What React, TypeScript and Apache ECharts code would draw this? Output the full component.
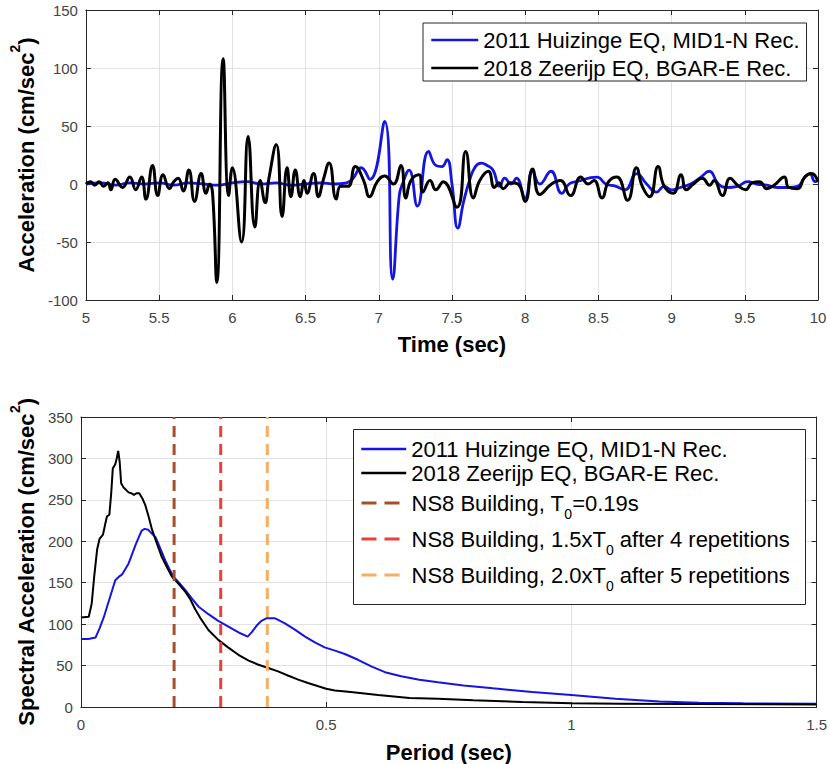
import { useEffect, useRef } from 'react';
import * as echarts from 'echarts';

const FONT = '"Liberation Sans", Arial, Helvetica, sans-serif';

const huizingeName = '2011 Huizinge EQ, MID1-N Rec.';
const zeerijpName = '2018 Zeerijp EQ, BGAR-E Rec.';
const markerNames = [
  'NS8 Building, T0=0.19s',
  'NS8 Building, 1.5xT0 after 4 repetitions',
  'NS8 Building, 2.0xT0 after 5 repetitions',
];
const markerPeriods = [0.19, 0.285, 0.38];
const markerColors = ['#A4502A', '#E8413A', '#F5AE62'];

const timeTicks = { min: 5, max: 10, interval: 0.5 };
const accTicks = { min: -100, max: 150, interval: 50 };
const periodTicks = { min: 0, max: 1.5, interval: 0.5 };
const saTicks = { min: 0, max: 350, interval: 50 };

// Acceleration time histories (time s, acc cm/s^2)
const huizingeAcc: [number, number][] = [
  [5.0, 0], [5.1, 1], [5.2, -1], [5.3, 1], [5.4, 0], [5.5, 1], [5.6, -1], [5.7, 1], [5.8, 0],
  [5.9, -1], [6.0, 1], [6.1, 2], [6.2, 0], [6.3, 1], [6.4, -1], [6.5, 0], [6.6, 1], [6.7, 0],
  [6.78, 1], [6.82, 4], [6.88, 14], [6.94, 4], [7.04, 54], [7.095, -82], [7.14, -10], [7.162, 0],
  [7.207, 12], [7.264, -19], [7.34, 28], [7.39, 16], [7.43, 15], [7.466, 21], [7.5, 0], [7.54, -38],
  [7.58, -15], [7.62, 3], [7.66, 15], [7.7, 18], [7.74, 16], [7.78, 12], [7.826, -2], [7.86, 5],
  [7.905, 0], [7.94, 5], [8.0, -12], [8.05, 11], [8.1, 0], [8.176, 11], [8.25, -8], [8.3, 0],
  [8.35, 2], [8.49, 6], [8.55, 0], [8.62, -2], [8.68, -5], [8.762, 9], [8.83, 0], [8.896, -7],
  [8.95, -2], [9.0, -5], [9.06, -3], [9.13, 0], [9.2, 6], [9.257, 11], [9.32, 0], [9.38, -3],
  [9.45, -2], [9.52, 2], [9.58, 0], [9.65, -1], [9.72, -3], [9.8, -3], [9.86, -2], [9.91, 6],
  [9.944, 9], [9.98, 2], [10.0, 3],
];

const zeerijpAcc: [number, number][] = [
  [5.0, 0], [5.03, 2], [5.06, -1], [5.09, 2], [5.12, -2], [5.15, 1], [5.17, -5], [5.2, 4],
  [5.25, -3], [5.3, 6], [5.34, -5], [5.38, 6], [5.41, -13], [5.455, 16], [5.49, -10], [5.527, 8],
  [5.57, -4], [5.6, 2], [5.63, 5], [5.665, -6], [5.703, 12], [5.742, -15], [5.787, 9], [5.82, -8],
  [5.845, 0], [5.865, -8], [5.894, -85], [5.937, 108], [5.975, -10], [6.0, 14], [6.063, -50],
  [6.108, 41], [6.154, -37], [6.19, 3], [6.224, -16], [6.25, 5], [6.3, 34], [6.34, -28],
  [6.374, 14], [6.4, -11], [6.43, 12], [6.464, -11], [6.49, 3], [6.51, -8], [6.555, 9],
  [6.588, -11], [6.62, 3], [6.661, 18], [6.71, -13], [6.74, -2], [6.79, -2], [6.84, 15],
  [6.897, 3], [6.937, -11], [6.99, 2], [7.04, 7], [7.1, 0], [7.151, 16], [7.185, -12], [7.22, 3],
  [7.275, 8], [7.3, -7], [7.35, 3], [7.39, -5], [7.44, 2], [7.534, -20], [7.594, 28], [7.646, -12],
  [7.69, 3], [7.748, 11], [7.79, -3], [7.82, 1], [7.85, -4], [7.9, 1], [7.95, 0], [8.0, -15],
  [8.05, 13], [8.1, -9], [8.18, 0], [8.24, 3], [8.31, -10], [8.38, 6], [8.43, 0], [8.47, 3],
  [8.525, -12], [8.57, 2], [8.626, 6], [8.7, -14], [8.76, 14], [8.8, -2], [8.851, -11],
  [8.908, 15], [8.95, -2], [9.01, -8], [9.065, 8], [9.1, -5], [9.15, 0], [9.21, 5], [9.26, -1],
  [9.29, 3], [9.347, -10], [9.4, 5], [9.45, -1], [9.505, -5], [9.55, 1], [9.6, 2], [9.65, -4],
  [9.7, -1], [9.77, 6], [9.8, -3], [9.86, -4], [9.91, 6], [9.955, 9], [10.0, 2],
];

// Response spectra (period s, Sa cm/s^2)
const huizingeSa: [number, number][] = [
  [0, 82], [0.015, 82], [0.03, 84], [0.038, 95], [0.047, 109], [0.058, 130], [0.07, 153],
  [0.077, 157], [0.084, 160], [0.09, 166], [0.097, 173], [0.104, 184], [0.111, 195], [0.118, 205],
  [0.124, 213], [0.13, 215], [0.137, 214], [0.145, 209], [0.152, 205], [0.158, 197], [0.165, 187],
  [0.172, 177], [0.18, 167], [0.189, 157], [0.2, 150], [0.213, 141], [0.226, 131], [0.24, 121],
  [0.26, 112], [0.28, 104], [0.307, 95], [0.325, 89], [0.34, 85], [0.348, 90], [0.358, 98],
  [0.368, 104], [0.378, 107], [0.396, 107], [0.416, 101], [0.437, 93], [0.457, 85], [0.477, 78],
  [0.497, 72], [0.518, 68], [0.538, 64], [0.565, 57], [0.592, 49], [0.62, 42], [0.653, 37],
  [0.69, 33], [0.728, 30], [0.78, 26], [0.84, 22.5], [0.92, 18], [1.0, 14.5], [1.09, 10],
  [1.18, 6.5], [1.26, 5], [1.35, 4.5], [1.5, 4],
];

const zeerijpSa: [number, number][] = [
  [0, 108], [0.016, 109], [0.022, 125], [0.027, 157], [0.033, 190], [0.038, 203], [0.045, 208],
  [0.05, 222], [0.053, 230], [0.058, 232], [0.062, 260], [0.065, 288], [0.07, 293], [0.073, 300],
  [0.076, 309], [0.079, 296], [0.082, 270], [0.087, 265], [0.092, 262], [0.097, 259],
  [0.103, 258], [0.108, 256], [0.114, 258], [0.119, 258], [0.125, 252], [0.131, 244],
  [0.138, 230], [0.145, 214], [0.155, 197], [0.165, 181], [0.176, 168], [0.186, 157], [0.2, 148],
  [0.213, 139], [0.223, 130], [0.233, 118], [0.245, 106], [0.26, 93], [0.28, 81], [0.3, 72],
  [0.321, 63], [0.342, 56], [0.362, 51], [0.382, 47], [0.402, 43], [0.422, 38], [0.443, 33],
  [0.463, 29], [0.484, 25], [0.5, 22], [0.518, 20], [0.55, 18], [0.606, 14.5], [0.67, 11],
  [0.728, 10], [0.8, 8], [0.9, 6], [1.0, 4.5], [1.1, 4], [1.25, 3.5], [1.5, 3],
];

const BLUE = '#1515E0';
const BLACK = '#000000';
const AXIS = '#262626';
const GRIDLINE = '#e2e2e2';

function makeX(gridIndex: number, ticks: any, name: string, bottom: boolean) {
  return {
    gridIndex,
    type: 'value',
    position: bottom ? 'bottom' : 'top',
    ...ticks,
    name: bottom ? name : '',
    nameLocation: 'middle',
    nameGap: 33,
    nameTextStyle: { fontFamily: FONT, fontSize: 22, fontWeight: 'bold', color: '#000' },
    axisLine: { show: true, onZero: false, lineStyle: { color: AXIS, width: 1 } },
    axisTick: { show: true, inside: true, length: 5, lineStyle: { color: AXIS } },
    axisLabel: { show: bottom, margin: 10, fontFamily: FONT, fontSize: 15, color: '#444' },
    splitLine: { show: bottom, lineStyle: { color: GRIDLINE, width: 1 } },
  };
}

function makeY(gridIndex: number, ticks: any, name: string, gap: number, left: boolean) {
  return {
    gridIndex,
    type: 'value',
    position: left ? 'left' : 'right',
    ...ticks,
    name: left ? name : '',
    nameLocation: 'middle',
    nameGap: gap,
    nameTextStyle: {
      fontFamily: FONT, fontSize: 22, fontWeight: 'bold', color: '#000',
      rich: { sup: { fontFamily: FONT, fontSize: 14, fontWeight: 'bold', color: '#000', padding: [0, 0, 22, 0] } },
    },
    axisLine: { show: true, onZero: false, lineStyle: { color: AXIS, width: 1 } },
    axisTick: { show: true, inside: true, length: 5, lineStyle: { color: AXIS } },
    axisLabel: { show: left, margin: 8, fontFamily: FONT, fontSize: 15, color: '#444' },
    splitLine: { show: left, lineStyle: { color: GRIDLINE, width: 1 } },
  };
}

function legendLabel(name: string) {
  return name.replace('T0', 'T{sub|0}');
}

export default function App() {
  const ref = useRef<HTMLDivElement>(null);
  useEffect(() => {
    if (!ref.current) return;
    const chart = echarts.init(ref.current, undefined, { renderer: 'svg' });
    const legendText = {
      fontFamily: FONT, fontSize: 22, color: '#000',
      rich: {
        sub: { fontFamily: FONT, fontSize: 14, color: '#000', padding: [22, 0, 0, 0] },
      },
    };
    const legendBase = {
      orient: 'vertical',
      itemHeight: 14,
      selectedMode: false,
      itemStyle: { opacity: 0 },
      lineStyle: { width: 2.5 },
      textStyle: legendText,
      formatter: legendLabel,
    };
    const markerSeries = markerPeriods.map((p, i) => ({
      type: 'line',
      name: markerNames[i],
      xAxisIndex: 2,
      yAxisIndex: 2,
      data: [[p, saTicks.min], [p, saTicks.max]],
      symbol: 'none',
      lineStyle: { color: markerColors[i], width: 3, type: [11, 7] },
      itemStyle: { color: markerColors[i] },
      z: 3,
    }));
    chart.setOption({
      animation: false,
      textStyle: { fontFamily: FONT },
      grid: [
        { left: 80, top: 10, width: 738, height: 290 },
        { left: 80, top: 417, width: 738, height: 290 },
      ],
      graphic: [
        {
          type: 'rect',
          z: 3,
          shape: { x: 353.5, y: 429.5, width: 452, height: 175 },
          style: { fill: '#fff', stroke: AXIS, lineWidth: 1 },
        },
      ],
      xAxis: [
        makeX(0, timeTicks, 'Time (sec)', true),
        makeX(0, timeTicks, '', false),
        { ...makeX(1, periodTicks, 'Period (sec)', true), nameGap: 34 },
        makeX(1, periodTicks, '', false),
      ],
      yAxis: [
        makeY(0, accTicks, 'Acceleration (cm/sec{sup|2})', 41, true),
        makeY(0, accTicks, '', 0, false),
        makeY(1, saTicks, 'Spectral Acceleration (cm/sec{sup|2})', 35, true),
        makeY(1, saTicks, '', 0, false),
      ],
      legend: [
        {
          ...legendBase,
          data: [huizingeName, zeerijpName],
          left: 423,
          top: 23,
          padding: [6, 7, 2, 7],
          itemGap: 6,
          itemWidth: 47,
          borderColor: AXIS,
          borderWidth: 1,
          backgroundColor: '#fff',
        },
        {
          ...legendBase,
          data: [huizingeName, zeerijpName],
          left: 360,
          top: 438,
          padding: 0,
          itemGap: 2,
          itemWidth: 45,
        },
        {
          ...legendBase,
          data: markerNames,
          left: 360,
          top: 492,
          padding: 0,
          itemGap: 7,
          itemWidth: 45,
          lineStyle: { width: 3, type: [15, 8, 15, 20] },
        },
      ],
      series: [
        {
          type: 'line', name: huizingeName, xAxisIndex: 0, yAxisIndex: 0, data: huizingeAcc,
          symbol: 'none', smooth: 0.5, lineStyle: { color: BLUE, width: 2.8 }, itemStyle: { color: BLUE }, z: 2,
        },
        {
          type: 'line', name: zeerijpName, xAxisIndex: 0, yAxisIndex: 0, data: zeerijpAcc,
          symbol: 'none', smooth: 0.5, lineStyle: { color: BLACK, width: 3 }, itemStyle: { color: BLACK }, z: 2,
        },
        {
          type: 'line', name: huizingeName, xAxisIndex: 2, yAxisIndex: 2, data: huizingeSa,
          symbol: 'none', lineStyle: { color: BLUE, width: 2 }, itemStyle: { color: BLUE }, z: 2,
        },
        {
          type: 'line', name: zeerijpName, xAxisIndex: 2, yAxisIndex: 2, data: zeerijpSa,
          symbol: 'none', lineStyle: { color: BLACK, width: 2 }, itemStyle: { color: BLACK }, z: 2,
        },
        ...markerSeries,
      ],
    });
    return () => chart.dispose();
  }, []);
  return (
    <div
      ref={ref}
      style={{ position: 'absolute', left: 0, top: 0, width: 830, height: 764, background: '#fff' }}
    />
  );
}
